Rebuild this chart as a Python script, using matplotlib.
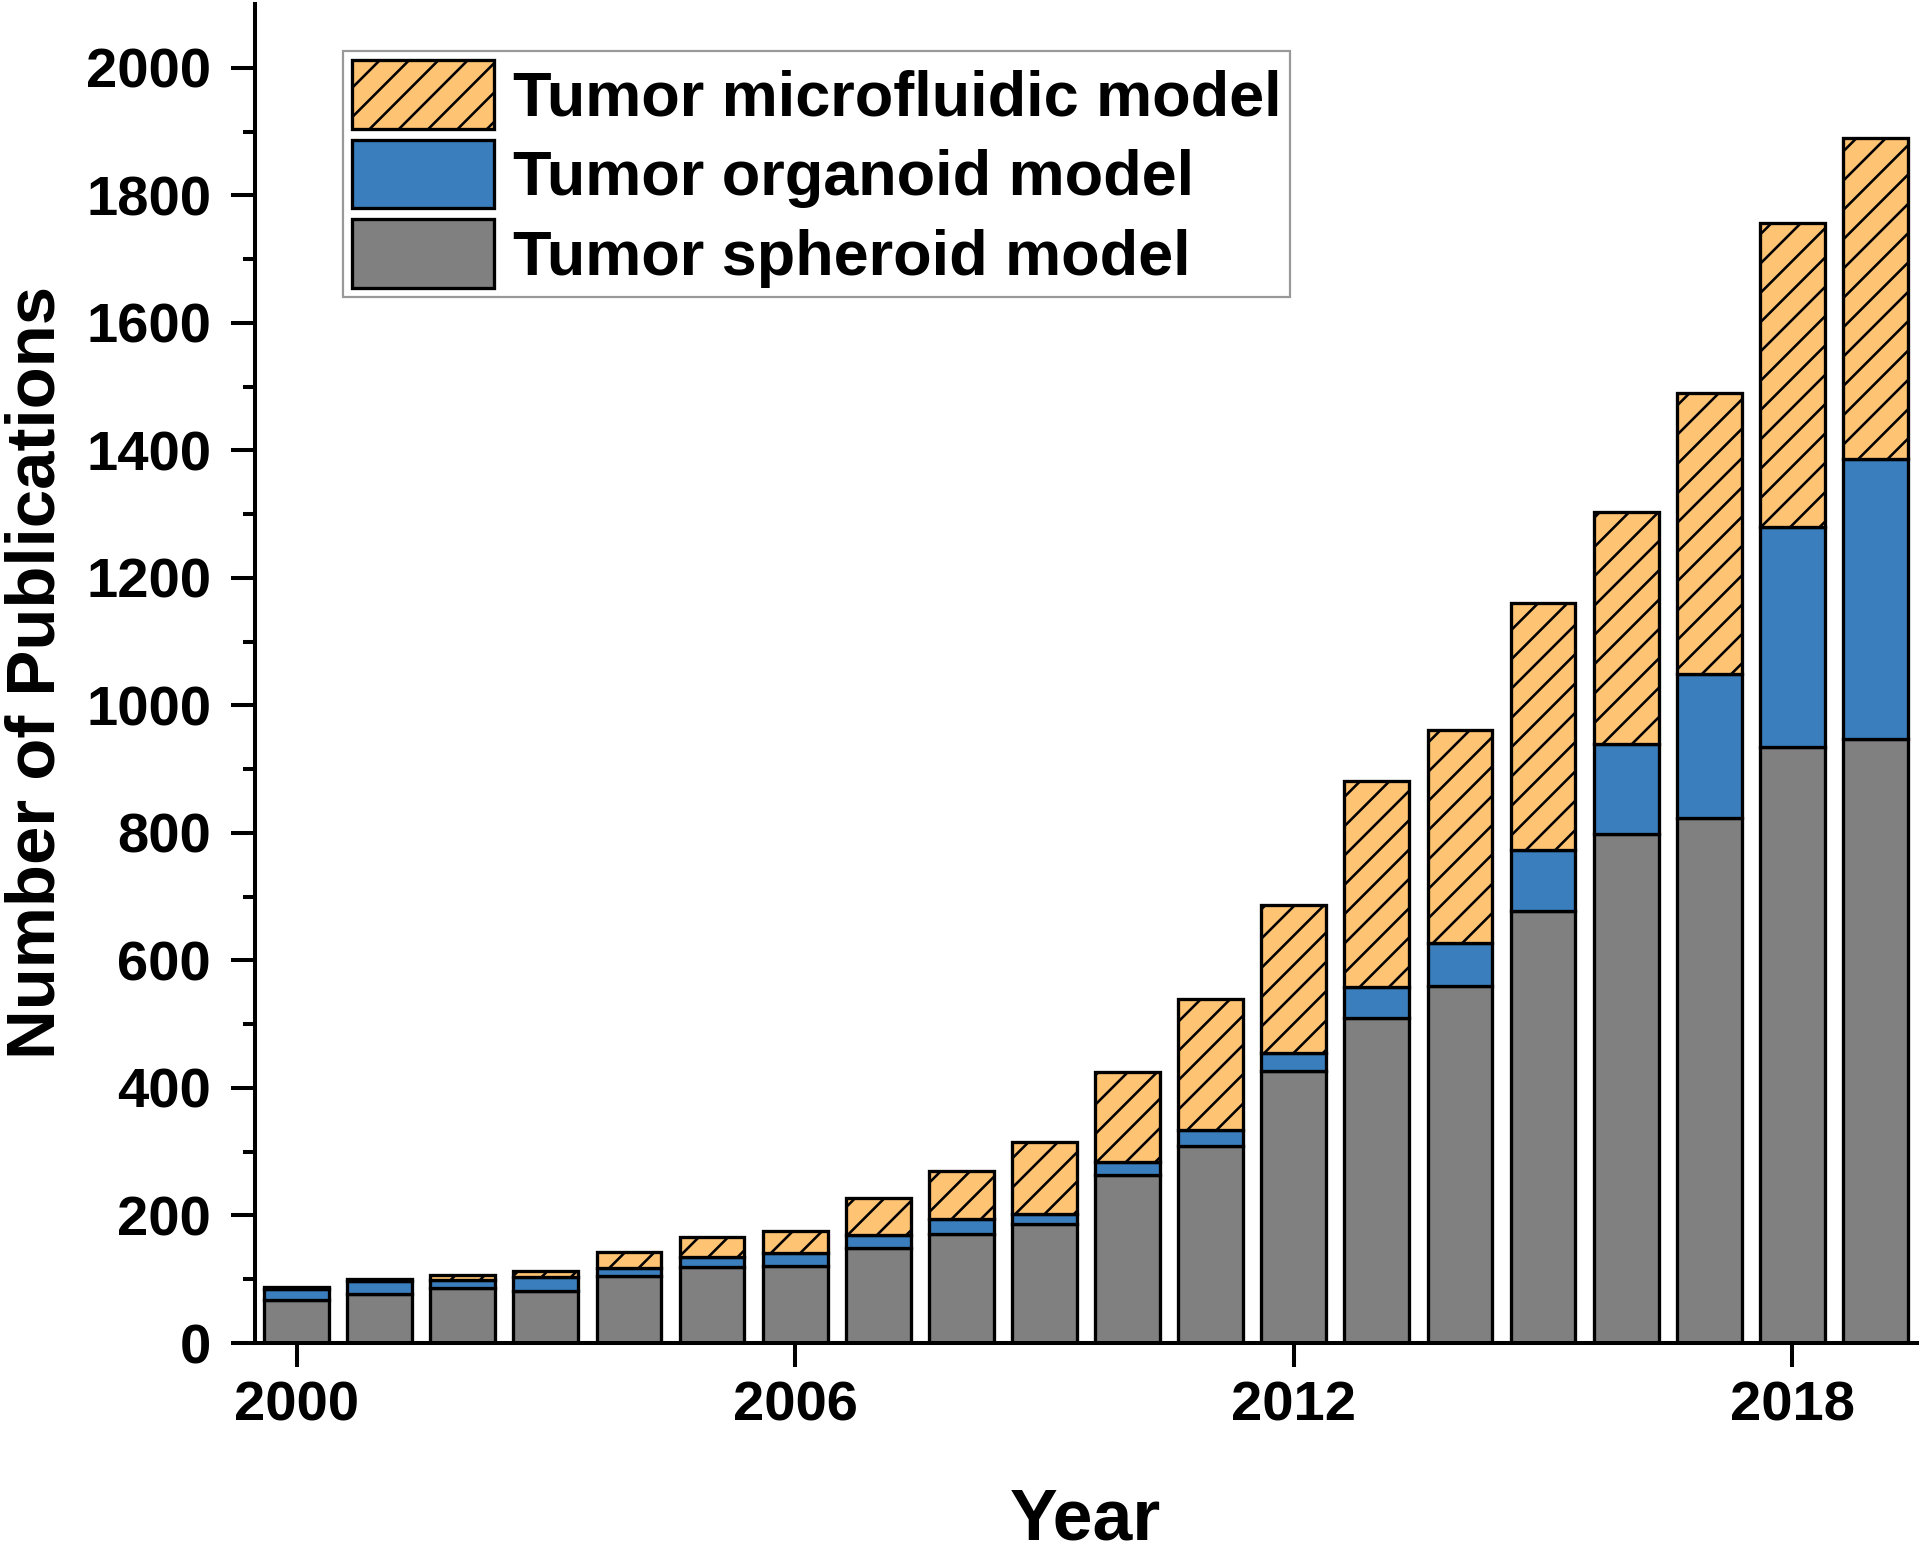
import matplotlib
matplotlib.use("Agg")
import matplotlib.pyplot as plt
import numpy as np

years = np.arange(2000, 2020)
spheroid = [68, 77, 86, 82, 105, 119, 120, 149, 171, 186, 264, 309, 427, 510, 560, 677, 798, 823, 935, 947]
organoid = [16, 21, 13, 21, 12, 16, 21, 20, 23, 16, 20, 25, 28, 49, 68, 96, 142, 227, 344, 440]
microfluidic = [4, 2, 8, 10, 26, 31, 35, 58, 76, 113, 141, 205, 232, 323, 333, 388, 364, 440, 477, 503]

plt.rcParams['font.family'] = ['Liberation Sans', 'DejaVu Sans']
plt.rcParams['font.weight'] = 'bold'
plt.rcParams['hatch.linewidth'] = 0.7

dpi = 264
fig = plt.figure(figsize=(1920 / dpi, 1548 / dpi), dpi=dpi)
ax = fig.add_axes([255 / 1920, 205 / 1548, 1662 / 1920, 1339 / 1548])

w = 0.78
sph = np.array(spheroid)
org = np.array(organoid)
b1 = ax.bar(years, sph, w, color='#808080', edgecolor='black', linewidth=0.9, label='Tumor spheroid model')
b2 = ax.bar(years, org, w, bottom=sph, color='#3A7EBD', edgecolor='black', linewidth=0.9, label='Tumor organoid model')
b3 = ax.bar(years, microfluidic, w, bottom=sph + org, color='#FFC473', edgecolor='black', linewidth=0.9,
            hatch='///', label='Tumor microfluidic model')

ax.set_xlim(1999.5, 2019.5)
ax.set_ylim(0, 2100)
ax.set_xticks([2000, 2006, 2012, 2018])
ax.set_yticks(np.arange(0, 2001, 200))
ax.set_yticks(np.arange(100, 2100, 200), minor=True)

for s in ['top', 'right']:
    ax.spines[s].set_visible(False)
for s in ['left', 'bottom']:
    ax.spines[s].set_linewidth(1.1)

ax.tick_params(axis='both', which='major', direction='out', length=6.5, width=1.1, labelsize=15.3)
ax.tick_params(axis='y', which='minor', direction='out', length=3.3, width=1.1)
ax.tick_params(axis='x', which='major', pad=3.8)
ax.tick_params(axis='y', which='major', pad=5.5)

ax.set_xlabel('Year', fontsize=19.5, fontweight='bold')
ax.set_ylabel('Number of Publications', fontsize=18.8, fontweight='bold')
ax.xaxis.label.set_verticalalignment('baseline')
ax.xaxis.set_label_coords(0.4994, -0.1470)
ax.yaxis.set_label_coords(-0.112, 0.501)

leg = ax.legend(handles=[b3, b2, b1], loc='upper left', bbox_to_anchor=(0.0529, 0.965),
                fontsize=17.2, frameon=True, fancybox=False, handlelength=2.25, handleheight=1.303,
                labelspacing=0.174, handletextpad=0.3, borderpad=0.14, borderaxespad=0)
leg.get_frame().set_edgecolor('#808080')
leg.get_frame().set_linewidth(0.6)

fig.savefig('out.png', dpi=dpi)
